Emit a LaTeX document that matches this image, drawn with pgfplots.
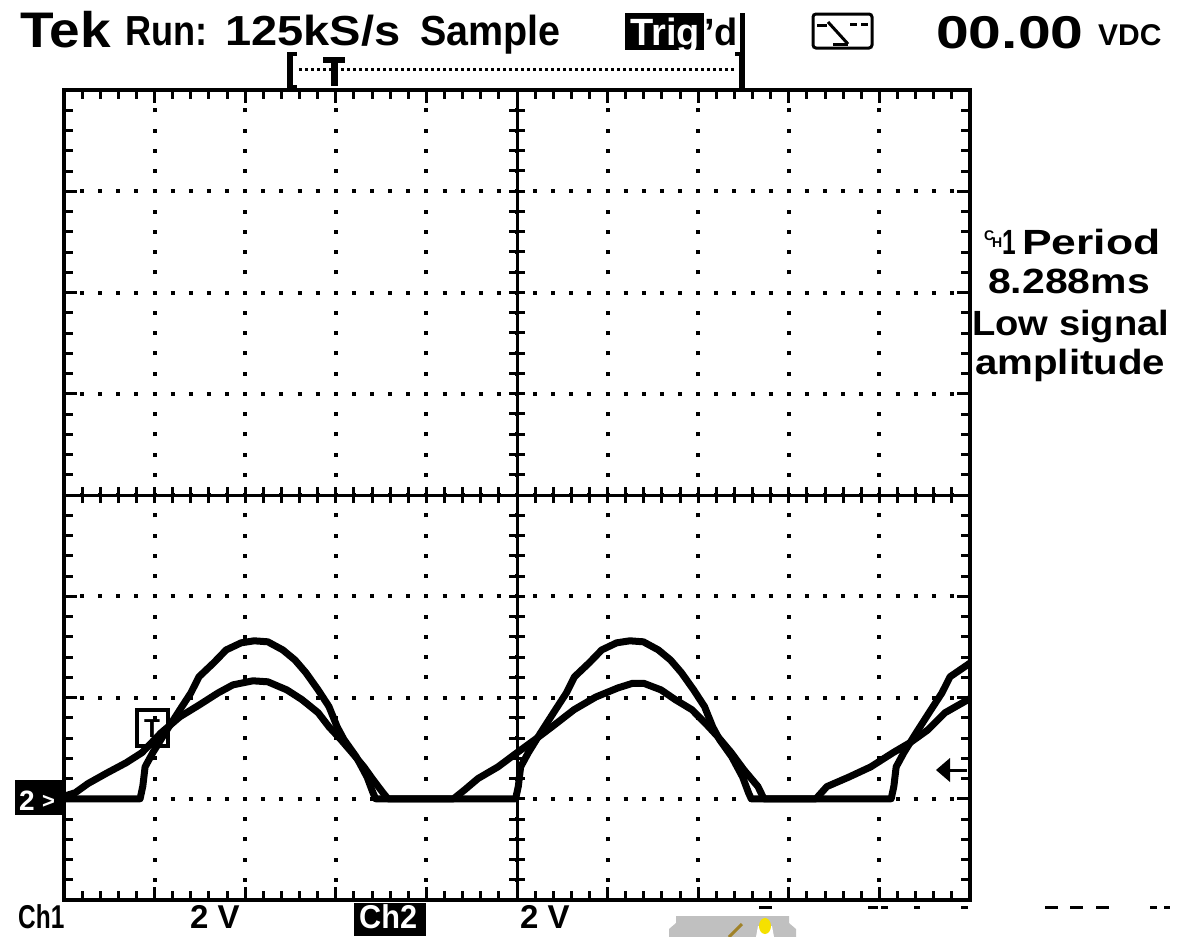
\documentclass[border=0pt]{standalone}
\usepackage{pgfplots}
\pgfplotsset{compat=1.18}
\usepackage{fontspec}
\setmainfont{Liberation Sans}
\usepackage{graphicx}
\definecolor{iconGray}{RGB}{192,192,192}
\definecolor{iconYellow}{RGB}{245,225,0}
\definecolor{stickBrown}{RGB}{160,130,40}
\newcommand{\tk}[1]{\fontsize{#1}{#1}\selectfont\bfseries}

\pgfplotstableread{
t v
0 0
1.68 0
1.74 0.25
1.79 0.63
1.96 0.91
2.23 1.30
2.56 1.76
2.80 2.09
2.98 2.41
3.31 2.69
3.58 2.94
3.91 3.08
4.20 3.12
4.50 3.10
4.83 2.94
5.10 2.74
5.34 2.49
5.61 2.15
5.85 1.82
6.03 1.42
6.18 1.17
6.45 0.83
6.69 0.43
6.82 0.12
6.88 0
9.97 0
10.03 0.25
10.08 0.63
10.25 0.91
10.52 1.30
10.85 1.76
11.09 2.09
11.27 2.41
11.60 2.69
11.87 2.94
12.20 3.08
12.49 3.12
12.79 3.10
13.12 2.94
13.39 2.74
13.63 2.49
13.90 2.15
14.14 1.82
14.32 1.42
14.47 1.17
14.74 0.83
14.98 0.43
15.11 0.12
15.17 0
18.26 0
18.32 0.25
18.37 0.63
18.54 0.91
18.81 1.30
19.14 1.76
19.38 2.09
19.56 2.41
20.00 2.68
}\chone

\pgfplotstableread{
t v
0 0.05
0.25 0.12
0.53 0.30
0.95 0.51
1.37 0.71
1.72 0.91
2.14 1.30
2.56 1.62
2.98 1.85
3.40 2.09
3.73 2.25
4.17 2.33
4.50 2.31
4.92 2.15
5.25 1.96
5.61 1.70
5.85 1.42
6.11 1.17
6.36 0.91
6.62 0.63
6.82 0.38
7.04 0.12
7.15 0
8.60 0
8.85 0.18
9.14 0.40
9.58 0.63
10.00 0.91
10.40 1.17
10.77 1.42
11.26 1.76
11.74 2.01
12.23 2.19
12.55 2.28
12.80 2.28
13.18 2.15
13.49 1.96
13.86 1.76
14.15 1.50
14.44 1.22
14.73 0.91
15.01 0.57
15.32 0.24
15.45 0
16.60 0
16.84 0.24
17.33 0.43
17.81 0.63
18.30 0.91
18.68 1.11
19.07 1.36
19.45 1.70
20.00 1.98
}\chtwo

\begin{document}
\begin{tikzpicture}
\path[use as bounding box] (0,0) rectangle (1184pt,-937pt);
\begin{axis}[
  at={(64pt,-900pt)}, anchor=south west,
  scale only axis, width=906pt, height=810pt,
  xmin=0, xmax=20, ymin=-2, ymax=14,
  xtick={0,2,...,20}, ytick={-2,0,...,14},
  minor x tick num=4, minor y tick num=4,
  xticklabels={}, yticklabels={},
  tick align=inside,
  major tick length=13pt, minor tick length=9pt,
  every tick/.style={black, line width=3pt},
  major tick style={black, line width=3pt},
  minor tick style={black, line width=3pt},
  axis line style={black, line width=4pt},
  grid=major,
  major x grid style={black, line width=4pt, dash pattern=on 4pt off 16.25pt, dash phase=2pt},
  major y grid style={black, line width=4pt, dash pattern=on 4pt off 14.12pt, dash phase=2pt},
]
\addplot[black, line width=7pt, line join=round, no marks] table[x=t, y=v] {\chone};
\addplot[black, line width=7pt, line join=round, no marks] table[x=t, y=v] {\chtwo};
\end{axis}
\begin{axis}[
  at={(64pt,-900pt)}, anchor=south west,
  scale only axis, width=906pt, height=810pt,
  xmin=-10, xmax=10, ymin=-8, ymax=8,
  enlargelimits=false,
  axis lines=middle, axis line style={-, black, line width=3pt},
  xtick={-10,-8,...,10}, ytick={-8,-6,...,8},
  minor x tick num=4, minor y tick num=4,
  xticklabels={}, yticklabels={},
  tick align=center,
  major tick length=16pt, minor tick length=16pt,
  every tick/.style={black, line width=3pt},
  major tick style={black, line width=3pt},
  minor tick style={black, line width=3pt},
  hide obscured x ticks=false, hide obscured y ticks=false,
]
\end{axis}
\begin{scope}[x=1pt,y=-1pt]
% top status line
\node[anchor=base west, inner sep=0pt] at (20,47) {\tk{50}\scalebox{1.1}[1]{Tek}};
\node[anchor=base west, inner sep=0pt] at (125,45) {\tk{42}\scalebox{0.86}[1]{Run:}};
\node[anchor=base west, inner sep=0pt] at (225,45) {\tk{42}\scalebox{1.12}[1]{125kS/s}};
\node[anchor=base west, inner sep=0pt] at (420,45) {\tk{42}\scalebox{0.94}[1]{Sample}};
\fill[black] (625,13) rectangle (704,50);
\node[anchor=base west, inner sep=0pt, text=white] at (630,45) {\tk{38}Trig};
\node[anchor=base west, inner sep=0pt] at (704,45) {\tk{38}'d};
\fill[black] (740,13) rectangle (745,58);
% trigger icon
\draw[line width=3pt, rounded corners=3pt] (813,14) rectangle (872,48);
\draw[line width=3pt] (817,25) -- (827,25);
\draw[line width=3pt] (828,22) -- (848,44);
\draw[line width=3pt] (833,44) -- (848,44);
\draw[line width=3pt, dash pattern=on 7pt off 4pt] (850,24) -- (868,24);
% 00.00 VDC
\node[anchor=base west, inner sep=0pt] at (936,48) {\tk{46}\scalebox{1.28}[1]{00.00}};
\node[anchor=base west, inner sep=0pt] at (1098,45) {\tk{30}VDC};
% trigger position bar
\fill[black] (287,52) rectangle (293,89);
\fill[black] (287,52) rectangle (297,56);
\fill[black] (287,85) rectangle (297,89);
\draw[line width=3pt, dash pattern=on 3pt off 3pt] (299,69) -- (736,69);
\fill[black] (323,57) rectangle (345,63);
\fill[black] (331,57) rectangle (338,86);
\fill[black] (739,52) rectangle (745,89);
\fill[black] (735,52) rectangle (745,56);
% measurement readout
\node[anchor=base west, inner sep=0pt] at (984,240) {\tk{14}C};
\node[anchor=base west, inner sep=0pt] at (992,247) {\tk{14}H};
\node[anchor=base west, inner sep=0pt] at (1002,254) {\tk{35}\scalebox{0.7}[1]{1}};
\node[anchor=base west, inner sep=0pt] at (1022,254) {\tk{35}\scalebox{1.27}[1]{Period}};
\node[anchor=base west, inner sep=0pt] at (988,293) {\tk{35}\scalebox{1.17}[1]{8.288ms}};
\node[anchor=base west, inner sep=0pt] at (972,335) {\tk{35}\scalebox{1.09}[1]{Low signal}};
\node[anchor=base west, inner sep=0pt] at (975,374) {\tk{35}\scalebox{1.15}[1]{amplitude}};
% ground marker
\fill[black] (15,780) rectangle (63,815);
\node[anchor=base west, inner sep=0pt, text=white] at (19,810) {\tk{28}2};
\node[anchor=base west, inner sep=0pt, text=white] at (42,808) {\tk{22}>};
% trigger level marker on trace
\draw[line width=4pt] (137,710) rectangle (168,746);
\node[inner sep=0pt] at (152,729) {\tk{26}T};
% right arrow
\draw[line width=3pt] (945,770) -- (967,770);
\fill[black] (936,770) -- (950,758) -- (950,782) -- cycle;
% bottom line
\node[anchor=base west, inner sep=0pt] at (18,928) {\tk{33}\scalebox{0.74}[1]{Ch1}};
\node[anchor=base west, inner sep=0pt] at (190,928) {\tk{33}\scalebox{1.0}[1]{2 V}};
\fill[black] (354,903) rectangle (426,936);
\node[anchor=base west, inner sep=0pt, text=white] at (359,928) {\tk{33}\scalebox{0.93}[1]{Ch2}};
\node[anchor=base west, inner sep=0pt] at (520,928) {\tk{33}\scalebox{1.0}[1]{2 V}};
% partial icon
\fill[iconGray] (669,937) -- (669,929) -- (676,923) -- (676,916) -- (789,916) -- (789,923) -- (796,929) -- (796,937) -- cycle;
\draw[stickBrown, line width=3pt] (729,937) -- (742,924);
\fill[white] (756,937) -- (758,926) -- (772,926) -- (774,937) -- cycle;
\fill[iconYellow] (765,926) ellipse (6pt and 8pt);
% stray dashes
\foreach \a/\b in {759/772, 868/878, 881/888, 914/920, 961/968, 1045/1058, 1070/1083, 1096/1109, 1150/1157, 1164/1170}
  \fill[black] (\a,906) rectangle (\b,909);
\end{scope}
\end{tikzpicture}
\end{document}
